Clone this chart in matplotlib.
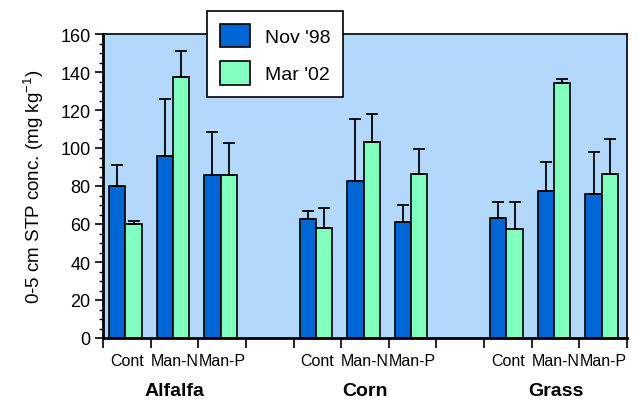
import matplotlib
matplotlib.use("Agg")
import matplotlib.pyplot as plt
import numpy as np
from matplotlib.ticker import MultipleLocator, FixedLocator
from matplotlib.transforms import blended_transform_factory

plt.rcParams['font.family'] = ['Liberation Sans', 'DejaVu Sans']

groups = ["Alfalfa", "Corn", "Grass"]
treatments = ["Cont", "Man-N", "Man-P"]
series = ["Nov '98", "Mar '02"]

nov98 = [80, 96, 86, 62.5, 82.5, 61, 63, 77.2, 75.8]
nov98_err = [11, 30, 22.4, 4.5, 32.6, 9, 8.8, 15.4, 21.9]
mar02 = [60, 137.5, 86, 57.7, 103.2, 86.2, 57.2, 134.2, 86.2]
mar02_err = [1.4, 13.5, 16.8, 10.9, 14.5, 13.1, 14.6, 2.3, 18.7]

blue = "#0066d6"
green = "#80ffbf"
bg = "#b4d8fb"

W, H = 637, 402
fig = plt.figure(figsize=(W / 100, H / 100), dpi=100)
ax = fig.add_axes([103 / W, (H - 339) / H, (627 - 103) / W, (339 - 35) / H])
ax.set_facecolor(bg)

# slot positions: 3 groups of 3 with a one-slot gap
slots = []
for g in range(len(groups)):
    for t in range(len(treatments)):
        slots.append(g * 4 + t)
slots = np.array(slots, dtype=float)

bw = 0.343
off = 0.126
x1 = slots + off
x2 = slots + off + bw
ax.bar(x1, nov98, width=bw, align='edge', color=blue, edgecolor='black', linewidth=1.2,
       label=series[0], zorder=2)
ax.bar(x2, mar02, width=bw, align='edge', color=green, edgecolor='black', linewidth=1.2,
       label=series[1], zorder=2)
ax.errorbar(x1 + bw / 2, nov98, yerr=[np.zeros(len(nov98)), nov98_err], fmt='none',
            ecolor='black', elinewidth=1.3, capsize=4.3, capthick=1.3, zorder=3)
ax.errorbar(x2 + bw / 2, mar02, yerr=[np.zeros(len(mar02)), mar02_err], fmt='none',
            ecolor='black', elinewidth=1.3, capsize=4.3, capthick=1.3, zorder=3)

ax.set_xlim(0, 11)
ax.set_ylim(0, 160)
ax.yaxis.set_major_locator(MultipleLocator(20))
ax.yaxis.set_minor_locator(MultipleLocator(5))
ax.tick_params(axis='y', which='major', length=6, width=1.2, labelsize=13, pad=3)
ax.tick_params(axis='y', which='minor', length=3, width=1.0)

ax.xaxis.set_major_locator(FixedLocator(np.arange(0, 12)))
ax.set_xticklabels([])
ax.tick_params(axis='x', which='major', length=7, width=1.2)
ax.xaxis.set_minor_locator(FixedLocator(slots + 0.5))
ax.set_xticklabels(treatments * 3, minor=True)
ax.tick_params(axis='x', which='minor', length=0, labelsize=11.5, pad=11)

trans = blended_transform_factory(ax.transData, ax.transAxes)
for g, name in enumerate(groups):
    ax.text(g * 4 + 1.5, -53 / (339 - 35), name, transform=trans, ha='center', va='center',
            fontsize=14, fontweight='bold')

for side in ['left', 'bottom']:
    ax.spines[side].set_linewidth(2)
for side in ['top', 'right']:
    ax.spines[side].set_linewidth(1.2)

ax.set_ylabel("0-5 cm STP conc. (mg kg$^{\\mathregular{-1}}$)", fontsize=13.5, labelpad=10)

leg = fig.legend(loc='upper left', bbox_to_anchor=(207 / W, 1 - 12 / H), borderaxespad=0,
                 fontsize=14, handlelength=1.55, handleheight=1.5, handletextpad=0.8,
                 labelspacing=0.7, borderpad=0.65, fancybox=False, framealpha=1,
                 edgecolor='black', facecolor='white')
leg.get_frame().set_linewidth(1.2)

fig.savefig("out.png", dpi=100)
